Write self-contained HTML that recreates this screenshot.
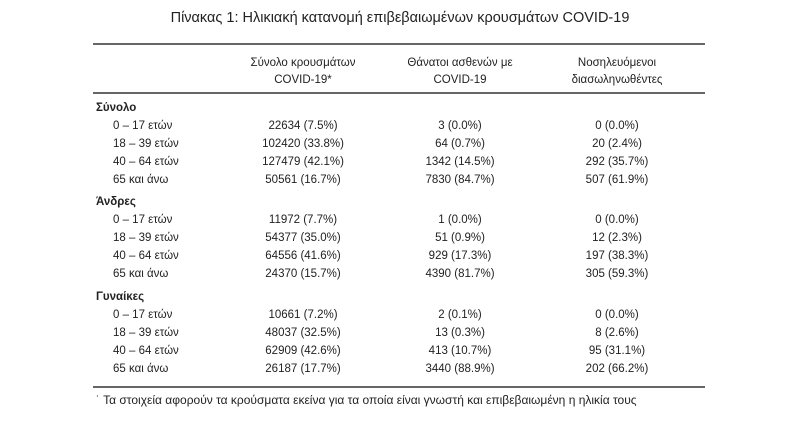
<!DOCTYPE html>
<html><head><meta charset="utf-8"><style>
body{margin:0;width:800px;height:433px;background:#fff;position:relative;overflow:hidden;font-family:"Liberation Sans","DejaVu Sans",sans-serif;color:#222;font-size:11.5px}
.a{position:absolute;white-space:nowrap;line-height:14px}
.c{transform:translateX(-50%);text-align:center}
.r{position:absolute;left:93px;width:612px;background:#666}
b{font-weight:bold}
</style></head><body>
<div class="a c" style="left:400px;top:10px;font-size:14.5px;line-height:17px">Πίνακας 1: Ηλικιακή κατανομή επιβεβαιωμένων κρουσμάτων COVID-19</div>
<div class="r" style="top:43px;height:2px"></div>
<div class="r" style="top:92px;height:2px"></div>
<div class="r" style="top:386px;height:2px"></div>
<div class="a c" style="left:303px;top:55px;line-height:17px">Σύνολο κρουσμάτων<br>COVID-19*</div>
<div class="a c" style="left:460px;top:55px;line-height:17px">Θάνατοι ασθενών με<br>COVID-19</div>
<div class="a c" style="left:617px;top:55px;line-height:17px">Νοσηλευόμενοι<br>διασωληνωθέντες</div>
<div id="t"></div>
<div class="a" style="left:96px;top:393px;font-size:12px">˙ Τα στοιχεία αφορούν τα κρούσματα εκείνα για τα οποία είναι γνωστή και επιβεβαιωμένη η ηλικία τους</div>
<script>
var g=[["Σύνολο",101,[["22634 (7.5%)","3 (0.0%)","0 (0.0%)"],["102420 (33.8%)","64 (0.7%)","20 (2.4%)"],["127479 (42.1%)","1342 (14.5%)","292 (35.7%)"],["50561 (16.7%)","7830 (84.7%)","507 (61.9%)"]]],
["Άνδρες",195,[["11972 (7.7%)","1 (0.0%)","0 (0.0%)"],["54377 (35.0%)","51 (0.9%)","12 (2.3%)"],["64556 (41.6%)","929 (17.3%)","197 (38.3%)"],["24370 (15.7%)","4390 (81.7%)","305 (59.3%)"]]],
["Γυναίκες",290,[["10661 (7.2%)","2 (0.1%)","0 (0.0%)"],["48037 (32.5%)","13 (0.3%)","8 (2.6%)"],["62909 (42.6%)","413 (10.7%)","95 (31.1%)"],["26187 (17.7%)","3440 (88.9%)","202 (66.2%)"]]]];
var L=["0 – 17 ετών","18 – 39 ετών","40 – 64 ετών","65 και άνω"],X=[303,460,617],h="";
g.forEach(function(s){h+='<div class="a" style="left:96px;top:'+s[1]+'px"><b>'+s[0]+'</b></div>';
s[2].forEach(function(r,i){var y=s[1]+18+i*18;h+='<div class="a" style="left:113px;top:'+y+'px">'+L[i]+'</div>';
r.forEach(function(v,j){h+='<div class="a c" style="left:'+X[j]+'px;top:'+y+'px">'+v+'</div>'})})});
document.getElementById('t').innerHTML=h;
</script>
</body></html>
